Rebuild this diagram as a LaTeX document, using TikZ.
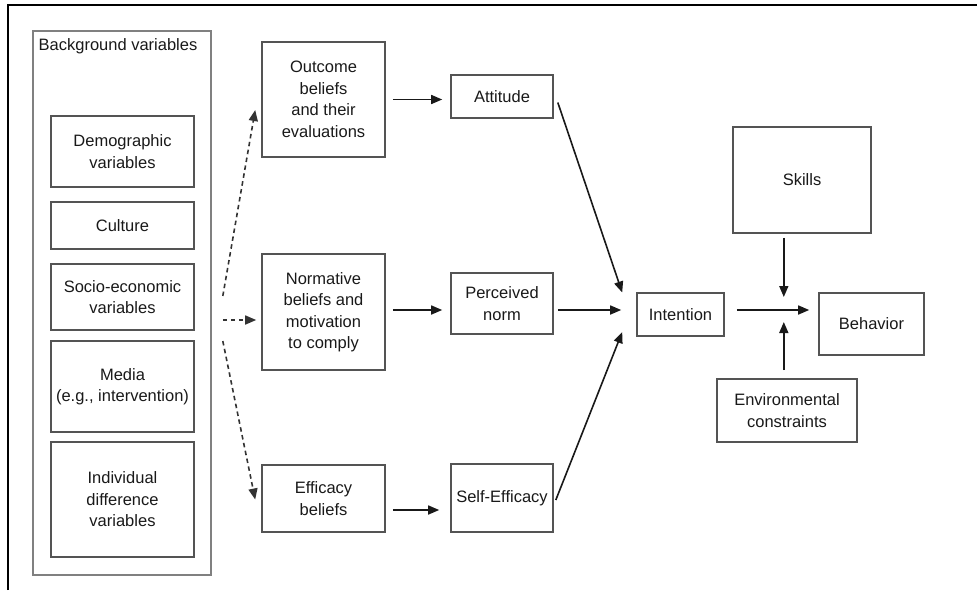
\documentclass[tikz,border=0pt]{standalone}
\usepackage{fontspec}
\setmainfont{Liberation Sans}
\usetikzlibrary{arrows.meta,calc}
\definecolor{boxgray}{gray}{0.33}
\definecolor{outergray}{gray}{0.5}
\definecolor{txt}{gray}{0.1}
\begin{document}
\begin{tikzpicture}[x=1pt,y=-1pt,
  box/.style={draw=boxgray, line width=1.6pt, inner sep=0pt, align=center,
    text=txt, font=\fontsize{16.5}{21.5}\selectfont},
  arr/.style={line width=1.6pt, -{Triangle[length=11pt,width=9pt]}, draw=black!90},
  darr/.style={line width=1.6pt, dash pattern=on 4.5pt off 3.5pt, -{Triangle[length=11pt,width=9pt]}, draw=black!80}]
\useasboundingbox (0,0) rectangle (977,590);
% frame
\draw[line width=2.2pt] (8,590) -- (8,5) -- (977,5);
% background column
\node[box, draw=outergray, minimum width=178pt, minimum height=544pt] (bg) at (122,303) {};
\node[text=txt, font=\fontsize{16.5}{21.5}\selectfont] (bgl) at (118,46) {Background variables};
\node[box, minimum width=143pt, minimum height=71pt] (demo) at (122.5,151.5) {Demographic\\variables};
\node[box, minimum width=143pt, minimum height=47pt] (cult) at (122.5,225.5) {Culture};
\node[box, minimum width=143pt, minimum height=66pt] (socio) at (122.5,297) {Socio-economic\\variables};
\node[box, minimum width=143pt, minimum height=91pt] (media) at (122.5,386.5) {Media\\(e.g., intervention)};
\node[box, minimum width=143pt, minimum height=115pt] (indiv) at (122.5,499.5) {Individual\\difference\\variables};
% beliefs column
\node[box, minimum width=123pt, minimum height=115pt] (outc) at (323.5,99.5) {Outcome\\beliefs\\and their\\evaluations};
\node[box, minimum width=123pt, minimum height=116pt] (norm) at (323.5,312) {Normative\\beliefs and\\motivation\\to comply};
\node[box, minimum width=123pt, minimum height=67pt] (effb) at (323.5,498.5) {Efficacy\\beliefs};
% determinants column
\node[box, minimum width=102pt, minimum height=43pt] (att) at (502,96.5) {Attitude};
\node[box, minimum width=102pt, minimum height=61pt] (pn) at (502,303.5) {Perceived\\norm};
\node[box, minimum width=102pt, minimum height=68pt] (se) at (502,498) {Self-Efficacy};
% right part
\node[box, minimum width=87pt, minimum height=43pt] (int) at (680.5,314.5) {Intention};
\node[box, minimum width=138pt, minimum height=106pt] (sk) at (802,180) {Skills};
\node[box, minimum width=105pt, minimum height=62pt] (beh) at (871.5,324) {Behavior};
\node[box, minimum width=140pt, minimum height=63pt] (env) at (787,410.5) {Environmental\\constraints};
% dashed arrows
\coordinate (d1) at ([xshift=11pt,yshift=7pt]bg.east);
\coordinate (d2) at ([xshift=11pt,yshift=-17pt]bg.east);
\coordinate (d3) at ([xshift=11pt,yshift=-38pt]bg.east);
\draw[darr] (d1) -- ([xshift=-6pt,yshift=-10.5pt]outc.west);
\draw[darr] (d2) -- ([xshift=-5pt,yshift=-8pt]norm.west);
\draw[darr] (d3) -- ([xshift=-6pt,yshift=-1pt]effb.west);
% solid arrows
\draw[arr, shorten <=7pt, shorten >=8pt] (outc.east) -- (outc.east -| att.west);
\draw[arr, shorten <=7pt, shorten >=8pt] ([yshift=2pt]norm.east) -- ([yshift=2pt]norm.east -| pn.west);
\draw[arr, shorten <=7pt, shorten >=11pt] ([yshift=-11.5pt]effb.east) -- ([yshift=-11.5pt]effb.east -| se.west);
\coordinate (ia) at ([xshift=-14pt,yshift=22pt]int.west);
\coordinate (ib) at ([xshift=-15pt,yshift=4.5pt]int.west);
\coordinate (ic) at ([xshift=-14pt,yshift=-17.5pt]int.west);
\draw[arr] ([xshift=4pt,yshift=-6pt]att.east) -- (ia);
\draw[arr] ([xshift=4pt,yshift=-6.5pt]pn.east) -- (ib);
\draw[arr] ([xshift=2pt,yshift=-2pt]se.east) -- (ic);
\coordinate (j) at ([xshift=59pt,yshift=4.5pt]int.east);
\draw[arr, shorten >=9pt] ([xshift=12pt,yshift=4.5pt]int.east) -- (j -| beh.west);
\draw[arr, shorten <=4pt, shorten >=13pt] (j |- sk.south) -- (j);
\draw[arr, shorten <=8pt, shorten >=12pt] (j |- env.north) -- (j);
\end{tikzpicture}
\end{document}
